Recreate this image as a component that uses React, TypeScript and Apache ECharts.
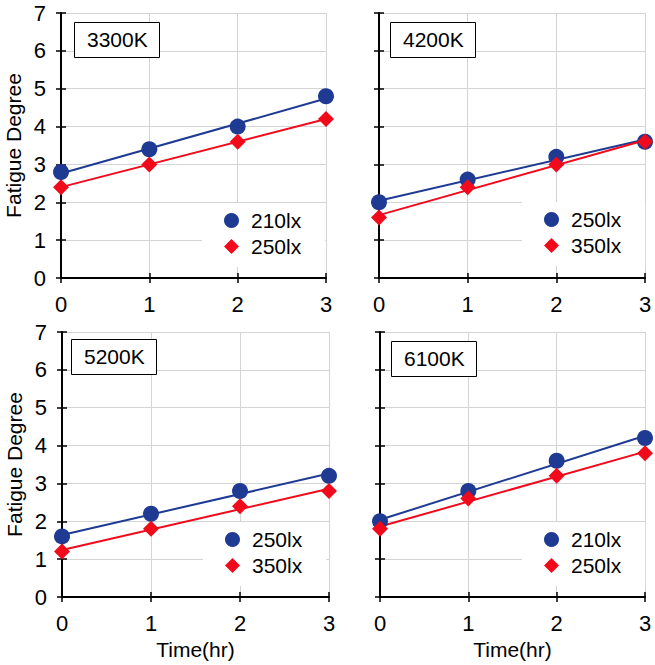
import React, { useEffect, useRef } from "react";
import * as echarts from "echarts";

const TIMES = [0, 1, 2, 3];
const Y_MIN = 0;
const Y_MAX = 7;
const PANEL_TITLES = ["3300K", "4200K", "5200K", "6100K"];
const BLUE_LABELS = ["210lx", "250lx", "250lx", "210lx"];
const RED_LABELS = ["250lx", "350lx", "350lx", "250lx"];
const BLUE_3300 = [2.8, 3.4, 4.0, 4.8];
const RED_3300 = [2.4, 3.0, 3.6, 4.2];
const BLUE_4200 = [2.0, 2.6, 3.2, 3.6];
const RED_4200 = [1.6, 2.4, 3.0, 3.6];
const BLUE_5200 = [1.6, 2.2, 2.8, 3.2];
const RED_5200 = [1.2, 1.8, 2.4, 2.8];
const BLUE_6100 = [2.0, 2.8, 3.6, 4.2];
const RED_6100 = [1.8, 2.6, 3.2, 3.8];
const Y_AXIS_NAME = "Fatigue Degree";
const X_AXIS_NAME = "Time(hr)";

const BLUE_SETS = [BLUE_3300, BLUE_4200, BLUE_5200, BLUE_6100];
const RED_SETS = [RED_3300, RED_4200, RED_5200, RED_6100];

const BLUE = "#1f3a93";
const RED = "#f00a1c";
const FONT = "'Liberation Sans', Arial, sans-serif";

const GRIDS = [
  { left: 61, top: 13, width: 265, height: 265 },
  { left: 379, top: 13, width: 266, height: 265 },
  { left: 62, top: 332, width: 267, height: 265 },
  { left: 380, top: 332, width: 265, height: 265 },
];
const TITLE_POS = [
  { left: 74, top: 22 },
  { left: 390, top: 22 },
  { left: 71, top: 339 },
  { left: 391, top: 341 },
];
const LEGEND_POS = [
  { left: 202, top: 203 },
  { left: 522, top: 202 },
  { left: 203, top: 522 },
  { left: 522, top: 522 },
];

function fit(xs: number[], ys: number[]): number[][] {
  const n = xs.length;
  const mx = xs.reduce((a, b) => a + b, 0) / n;
  const my = ys.reduce((a, b) => a + b, 0) / n;
  let sxy = 0;
  let sxx = 0;
  for (let i = 0; i < n; i++) {
    sxy += (xs[i] - mx) * (ys[i] - my);
    sxx += (xs[i] - mx) * (xs[i] - mx);
  }
  const slope = sxy / sxx;
  const b = my - slope * mx;
  const x0 = xs[0];
  const x1 = xs[n - 1];
  return [
    [x0, b + slope * x0],
    [x1, b + slope * x1],
  ];
}

export default function App() {
  const ref = useRef<HTMLDivElement>(null);
  useEffect(() => {
    if (!ref.current) return;
    const chart = echarts.init(ref.current, undefined, { renderer: "svg" });

    const xAxes: any[] = [];
    const yAxes: any[] = [];
    const series: any[] = [];
    const legends: any[] = [];
    const titles: any[] = [];
    const labelMap: Record<string, string> = {};

    GRIDS.forEach((g, i) => {
      const isLeft = i % 2 === 0;
      const isBottom = i >= 2;
      xAxes.push({
        type: "value",
        gridIndex: i,
        min: 0,
        max: 3,
        interval: 1,
        position: "bottom",
        axisLine: { show: true, onZero: false, lineStyle: { color: "#000", width: 2 } },
        axisTick: { show: true, inside: false, length: 5, lineStyle: { color: "#000", width: 1.5 } },
        axisLabel: { show: true, margin: 15, fontSize: 22, color: "#000", fontFamily: FONT },
        splitLine: { show: true, lineStyle: { color: "#d4d4d4", width: 1 } },
        name: isBottom ? X_AXIS_NAME : "",
        nameLocation: "middle",
        nameGap: 42,
        nameTextStyle: { fontSize: 21, color: "#000", fontFamily: FONT },
      });
      xAxes.push({
        type: "value",
        gridIndex: i,
        min: 0,
        max: 3,
        interval: 1,
        position: "bottom",
        axisLine: { show: false },
        axisTick: { show: true, inside: true, length: 5, lineStyle: { color: "#000", width: 1.5 } },
        axisLabel: { show: false },
        splitLine: { show: false },
      });
      yAxes.push({
        type: "value",
        gridIndex: i,
        min: Y_MIN,
        max: Y_MAX,
        interval: 1,
        position: "left",
        axisLine: { show: true, onZero: false, lineStyle: { color: "#000", width: 2 } },
        axisTick: { show: true, inside: false, length: 5, lineStyle: { color: "#000", width: 1.5 } },
        axisLabel: { show: isLeft, margin: 15, fontSize: 22, color: "#000", fontFamily: FONT },
        splitLine: { show: true, lineStyle: { color: "#d4d4d4", width: 1 } },
        name: isLeft ? Y_AXIS_NAME : "",
        nameLocation: "middle",
        nameGap: 37,
        nameTextStyle: { fontSize: 21, color: "#000", fontFamily: FONT },
      });
      yAxes.push({
        type: "value",
        gridIndex: i,
        min: Y_MIN,
        max: Y_MAX,
        interval: 1,
        position: "left",
        axisLine: { show: false },
        axisTick: { show: true, inside: true, length: 5, lineStyle: { color: "#000", width: 1.5 } },
        axisLabel: { show: false },
        splitLine: { show: false },
      });

      const xIdx = i * 2;
      const yIdx = i * 2;
      const blueName = PANEL_TITLES[i] + " " + BLUE_LABELS[i];
      const redName = PANEL_TITLES[i] + " " + RED_LABELS[i];
      labelMap[blueName] = BLUE_LABELS[i];
      labelMap[redName] = RED_LABELS[i];

      const blueData = TIMES.map((t, k) => [t, BLUE_SETS[i][k]]);
      const redData = TIMES.map((t, k) => [t, RED_SETS[i][k]]);

      series.push({
        type: "line",
        name: blueName + " fit",
        xAxisIndex: xIdx,
        yAxisIndex: yIdx,
        data: fit(TIMES, BLUE_SETS[i]),
        showSymbol: false,
        symbol: "none",
        lineStyle: { color: BLUE, width: 2 },
        z: 3,
        silent: true,
      });
      series.push({
        type: "line",
        name: redName + " fit",
        xAxisIndex: xIdx,
        yAxisIndex: yIdx,
        data: fit(TIMES, RED_SETS[i]),
        showSymbol: false,
        symbol: "none",
        lineStyle: { color: RED, width: 2 },
        z: 3,
        silent: true,
      });
      series.push({
        type: "scatter",
        name: blueName,
        xAxisIndex: xIdx,
        yAxisIndex: yIdx,
        data: blueData,
        symbol: "circle",
        symbolSize: 16,
        itemStyle: { color: BLUE, opacity: 1 },
        clip: false,
        z: 4,
      });
      series.push({
        type: "scatter",
        name: redName,
        xAxisIndex: xIdx,
        yAxisIndex: yIdx,
        data: redData,
        symbol: "diamond",
        symbolSize: 16,
        itemStyle: { color: RED, opacity: 1 },
        clip: false,
        z: 5,
      });

      legends.push({
        left: LEGEND_POS[i].left,
        top: LEGEND_POS[i].top,
        orient: "vertical",
        backgroundColor: "#fff",
        padding: [7, 24, 10, 22],
        itemWidth: 15,
        itemHeight: 15,
        itemGap: 5,
        selectedMode: false,
        data: [
          { name: blueName, icon: "circle" },
          { name: redName, icon: "diamond" },
        ],
        formatter: (n: string) => labelMap[n] ?? n,
        textStyle: {
          fontSize: 21,
          lineHeight: 21,
          color: "#000",
          fontFamily: FONT,
          padding: [0, 0, 0, 7],
        },
      });

      titles.push({
        text: PANEL_TITLES[i],
        left: TITLE_POS[i].left,
        top: TITLE_POS[i].top,
        borderColor: "#000",
        borderWidth: 1,
        backgroundColor: "#fff",
        padding: [7, 12, 8, 13],
        textStyle: {
          fontSize: 21,
          lineHeight: 21,
          fontWeight: "normal",
          color: "#000",
          fontFamily: FONT,
        },
      });
    });

    chart.setOption({
      animation: false,
      backgroundColor: "#fff",
      textStyle: { fontFamily: FONT },
      title: titles,
      legend: legends,
      grid: GRIDS.map((g) => ({ ...g, containLabel: false })),
      xAxis: xAxes,
      yAxis: yAxes,
      series,
    });

    return () => {
      chart.dispose();
    };
  }, []);

  return (
    <div
      ref={ref}
      style={{ position: "absolute", left: 0, top: 0, width: 655, height: 665 }}
    />
  );
}
